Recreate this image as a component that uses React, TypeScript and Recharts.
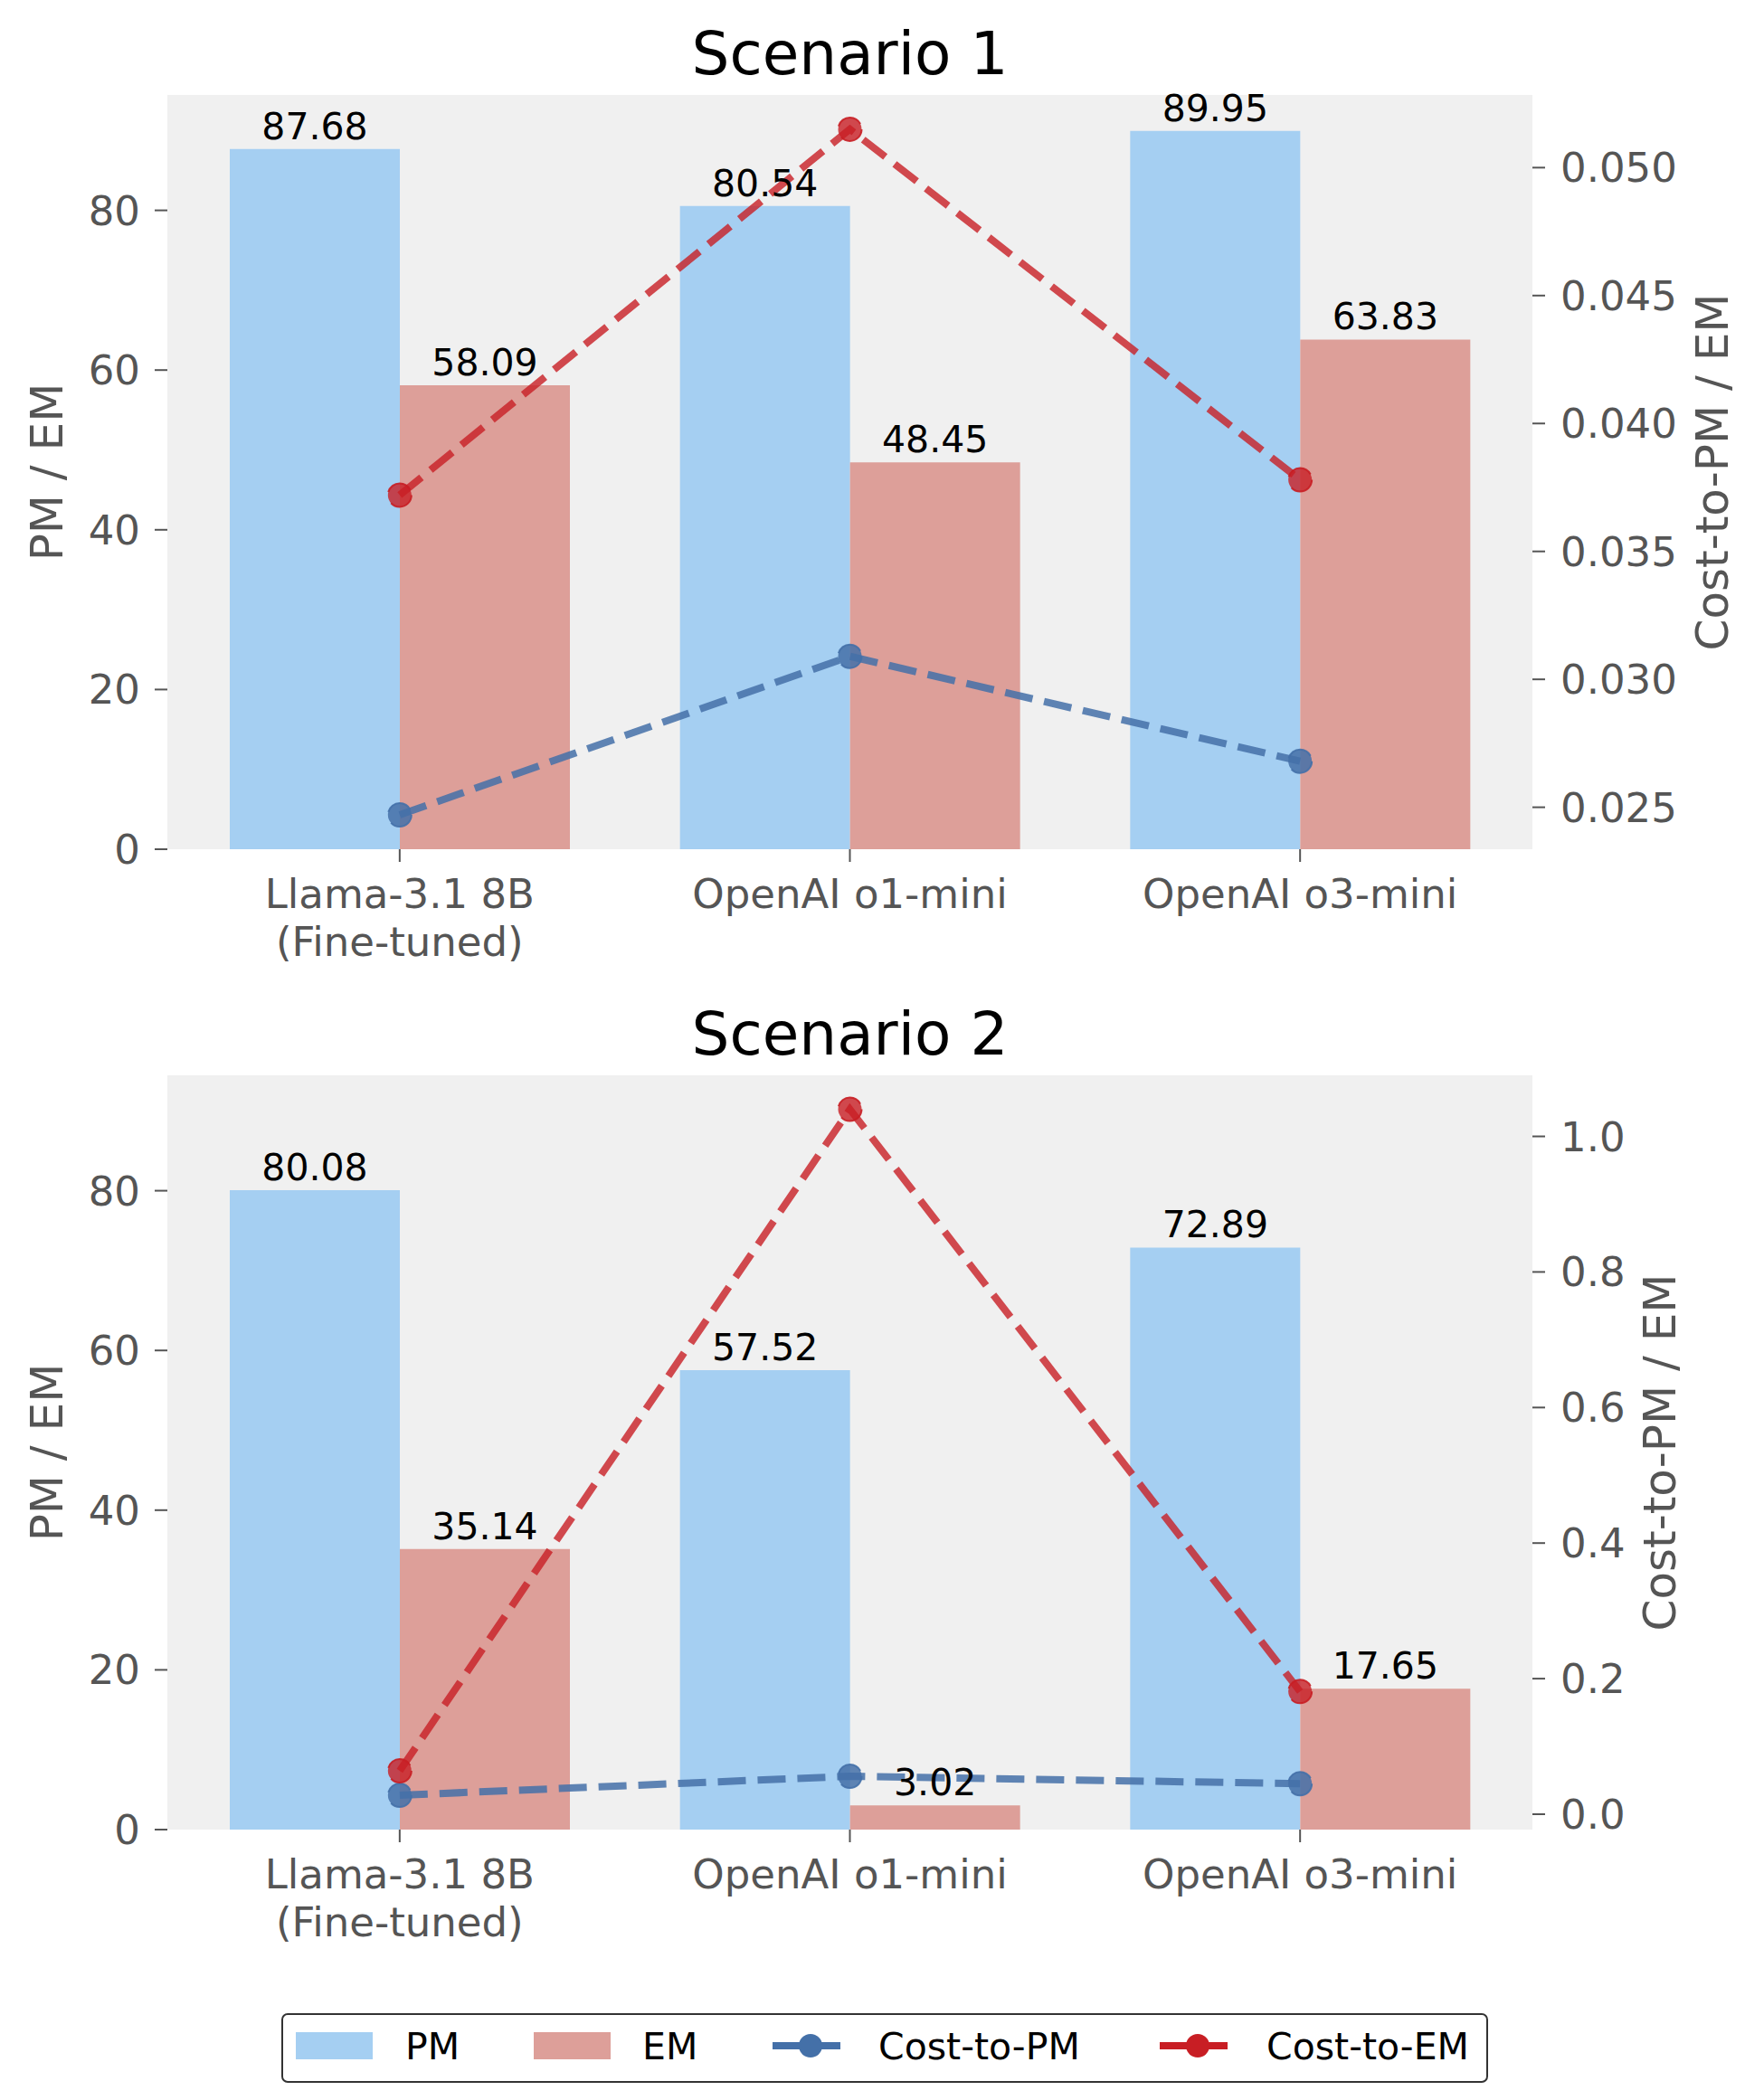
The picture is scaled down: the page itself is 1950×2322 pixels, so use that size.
import { ComposedChart, Bar, Line, XAxis, YAxis, CartesianGrid, LabelList } from "recharts";

const models = ["Llama-3.1 8B\n(Fine-tuned)", "OpenAI o1-mini", "OpenAI o3-mini"];

// Scenario 1
const s1PM = [87.68, 80.54, 89.95];
const s1EM = [58.09, 48.45, 63.83];
const s1CostPM = [0.0247, 0.0309, 0.0268];
const s1CostEM = [0.0372, 0.0515, 0.0378];

// Scenario 2
const s2PM = [80.08, 57.52, 72.89];
const s2EM = [35.14, 3.02, 17.65];
const s2CostPM = [0.028, 0.056, 0.045];
const s2CostEM = [0.064, 1.04, 0.181];

const leftTicks = [0, 20, 40, 60, 80];
const s1RightTicks = [0.025, 0.03, 0.035, 0.04, 0.045, 0.05];
const s2RightTicks = [0, 0.2, 0.4, 0.6, 0.8, 1.0];

const FONT = "DejaVu Sans, Verdana, sans-serif";
const PM_COLOR = "#a5cff2";
const EM_COLOR = "#dd9f99";
const BLUE = "#4470a8";
const RED = "#c81e24";
const TICK_GRAY = "#555555";

const ModelTick = ({ x, y, payload }: any) => {
  const lines = String(payload.value).split("\n");
  return (
    <text x={x} y={y} textAnchor="middle" fill={TICK_GRAY} fontSize={45} fontFamily={FONT}>
      {lines.map((l, i) => (
        <tspan key={i} x={x} y={y + 37 + i * 53}>
          {l}
        </tspan>
      ))}
    </text>
  );
};

type PanelProps = {
  top: number;
  pm: number[];
  em: number[];
  costPM: number[];
  costEM: number[];
  rightDomain: [number, number];
  rightTicks: number[];
  rightDigits: number;
};

function Panel({ top, pm, em, costPM, costEM, rightDomain, rightTicks, rightDigits }: PanelProps) {
  const data = models.map((m, i) => ({
    model: m,
    pm: pm[i],
    em: em[i],
    costPM: costPM[i],
    costEM: costEM[i],
  }));

  const tickStyle = { fill: TICK_GRAY, fontSize: 45, fontFamily: FONT };
  const tickLine = { stroke: TICK_GRAY, strokeWidth: 2 };
  const labelStyle = { fill: "#000", fontSize: 41, fontFamily: FONT };

  return (
    <div style={{ position: "absolute", left: 0, top, width: 1950, height: 1100 }}>
      <ComposedChart
        width={1950}
        height={1100}
        data={data}
        margin={{ top: 105, left: 85, right: 106, bottom: 21 }}
        barGap={0}
      >
        <CartesianGrid fill="#f0f0f0" stroke="none" horizontal={false} vertical={false} />
        <XAxis
          dataKey="model"
          interval={0}
          height={140}
          padding={{ left: 8, right: 8 }}
          axisLine={false}
          tickSize={14}
          tickMargin={14}
          tickLine={tickLine}
          tick={<ModelTick />}
        />
        <YAxis
          width={100}
          domain={[0, 94.45]}
          ticks={leftTicks}
          allowDataOverflow
          axisLine={false}
          tickSize={14}
          tickMargin={16}
          tickLine={tickLine}
          tick={tickStyle}
        />
        <YAxis
          yAxisId="right"
          orientation="right"
          width={150}
          domain={rightDomain}
          ticks={rightTicks}
          allowDataOverflow
          axisLine={false}
          tickSize={14}
          tickMargin={17}
          tickLine={tickLine}
          tick={{ ...tickStyle, textAnchor: "start" }}
          tickFormatter={(v: number) => v.toFixed(rightDigits)}
        />
        <Bar dataKey="pm" fill={PM_COLOR} barSize={188} isAnimationActive={false}>
          <LabelList dataKey="pm" position="top" offset={11} {...labelStyle} formatter={(v: any) => Number(v).toFixed(2)} />
        </Bar>
        <Bar dataKey="em" fill={EM_COLOR} barSize={188} isAnimationActive={false}>
          <LabelList dataKey="em" position="top" offset={11} {...labelStyle} formatter={(v: any) => Number(v).toFixed(2)} />
        </Bar>
        <Line
          yAxisId="right"
          dataKey="costPM"
          stroke={BLUE}
          strokeOpacity={0.85}
          strokeWidth={8}
          strokeDasharray="31 13"
          dot={{ r: 13, fill: BLUE, fillOpacity: 0.85, stroke: BLUE, strokeOpacity: 0.9, strokeWidth: 2 }}
          isAnimationActive={false}
        />
        <Line
          yAxisId="right"
          dataKey="costEM"
          stroke={RED}
          strokeOpacity={0.8}
          strokeWidth={8}
          strokeDasharray="31 13"
          dot={{ r: 13, fill: RED, fillOpacity: 0.8, stroke: RED, strokeOpacity: 0.9, strokeWidth: 2 }}
          isAnimationActive={false}
        />
      </ComposedChart>
    </div>
  );
}

function Overlay() {
  const axisLabel = { fill: TICK_GRAY, fontSize: 50, fontFamily: FONT, textAnchor: "middle" as const, dominantBaseline: "central" as const };
  const legendText = { fill: "#000", fontSize: 41, fontFamily: FONT };
  return (
    <svg width={1950} height={2322} style={{ position: "absolute", left: 0, top: 0, pointerEvents: "none" }}>
      <text x={939.5} y={82} textAnchor="middle" fontSize={66} fontFamily={FONT} fill="#000">Scenario 1</text>
      <text x={939.5} y={1166} textAnchor="middle" fontSize={66} fontFamily={FONT} fill="#000">Scenario 2</text>

      <text {...axisLabel} transform="translate(52,522) rotate(-90)">PM / EM</text>
      <text {...axisLabel} transform="translate(52,1606) rotate(-90)">PM / EM</text>
      <text {...axisLabel} transform="translate(1893,522) rotate(-90)">Cost-to-PM / EM</text>
      <text {...axisLabel} transform="translate(1835,1606) rotate(-90)">Cost-to-PM / EM</text>

      <rect x={312} y={2227} width={1332} height={75} rx={6} fill="#fff" stroke="#333" strokeWidth={2} />
      <rect x={327} y={2247} width={85} height={30} fill={PM_COLOR} />
      <text x={448} y={2277} {...legendText}>PM</text>
      <rect x={590} y={2247} width={85} height={30} fill={EM_COLOR} />
      <text x={710} y={2277} {...legendText}>EM</text>
      <line x1={854} y1={2262} x2={938} y2={2262} stroke={BLUE} strokeWidth={8} strokeDasharray="31 13" />
      <circle cx={896} cy={2262} r={13} fill={BLUE} />
      <text x={971} y={2277} {...legendText}>Cost-to-PM</text>
      <line x1={1282} y1={2262} x2={1366} y2={2262} stroke={RED} strokeWidth={8} strokeDasharray="31 13" />
      <circle cx={1324} cy={2262} r={13} fill={RED} />
      <text x={1400} y={2277} {...legendText}>Cost-to-EM</text>
    </svg>
  );
}

export default function App() {
  return (
    <div style={{ position: "absolute", left: 0, top: 0, width: 1950, height: 2322, background: "#fff", overflow: "hidden" }}>
      <Panel
        top={0}
        pm={s1PM}
        em={s1EM}
        costPM={s1CostPM}
        costEM={s1CostEM}
        rightDomain={[0.02336, 0.05284]}
        rightTicks={s1RightTicks}
        rightDigits={3}
      />
      <Panel
        top={1084}
        pm={s2PM}
        em={s2EM}
        costPM={s2CostPM}
        costEM={s2CostEM}
        rightDomain={[-0.0227, 1.0901]}
        rightTicks={s2RightTicks}
        rightDigits={1}
      />
      <Overlay />
    </div>
  );
}
